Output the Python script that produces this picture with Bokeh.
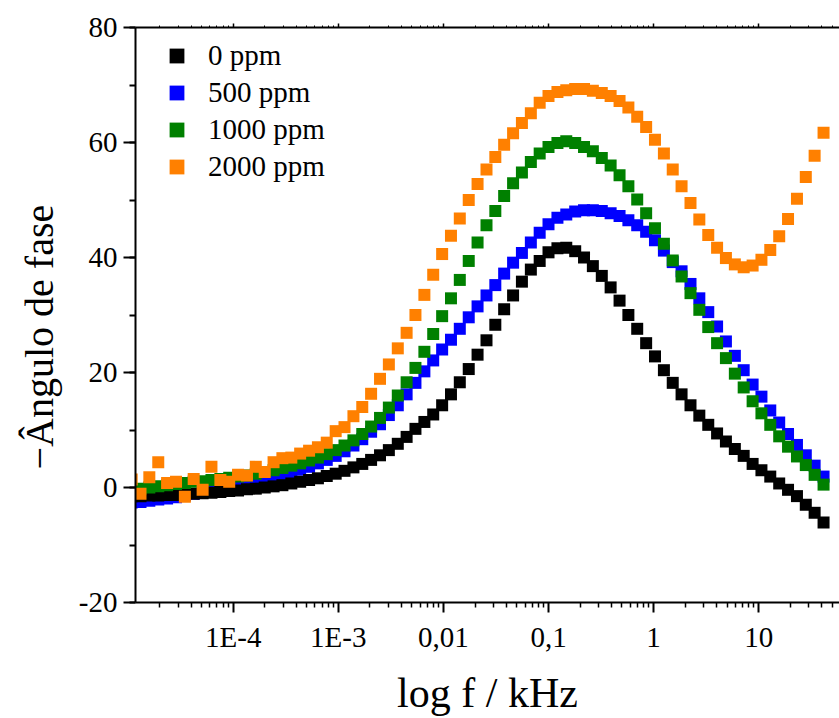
import math
from bokeh.plotting import figure
from bokeh.models import (LogAxis, FixedTicker, SingleIntervalTicker, Legend,
                          LegendItem, Title, Range1d)
from bokeh.embed import file_html
from bokeh.resources import INLINE

# ---------------- data ----------------
log_f = [-4.966, -4.882, -4.798, -4.713, -4.629, -4.544, -4.460, -4.376, -4.291, -4.207,
         -4.122, -4.038, -3.954, -3.869, -3.785, -3.700, -3.616, -3.532, -3.447, -3.363,
         -3.278, -3.194, -3.110, -3.025, -2.941, -2.856, -2.772, -2.688, -2.603, -2.519,
         -2.434, -2.350, -2.266, -2.181, -2.097, -2.012, -1.928, -1.844, -1.759, -1.675,
         -1.590, -1.506, -1.422, -1.337, -1.253, -1.168, -1.084, -1.000, -0.915, -0.831,
         -0.746, -0.662, -0.578, -0.493, -0.409, -0.324, -0.240, -0.156, -0.071, 0.013,
         0.098, 0.182, 0.266, 0.351, 0.435, 0.520, 0.604, 0.688, 0.773, 0.857,
         0.942, 1.026, 1.110, 1.195, 1.279, 1.364, 1.448, 1.532, 1.617]
freq_khz = [10 ** v for v in log_f]

phase_0ppm = [-1.5, -1.5, -1.4, -1.4, -1.3, -1.3, -1.2, -1.1, -1.0, -0.9,
              -0.8, -0.6, -0.5, -0.3, -0.2, 0.0, 0.2, 0.4, 0.7, 1.0,
              1.3, 1.6, 2.0, 2.4, 2.9, 3.5, 4.1, 4.8, 5.6, 6.5,
              7.6, 8.8, 10.2, 11.4, 12.7, 14.3, 16.2, 18.3, 20.6, 23.1,
              25.6, 28.3, 31.0, 33.4, 35.8, 37.9, 39.4, 40.9, 41.6, 41.7,
              41.1, 40.0, 38.5, 36.8, 34.8, 32.5, 30.0, 27.6, 25.1, 22.8,
              20.4, 18.2, 16.2, 14.3, 12.5, 10.9, 9.4, 8.0, 6.7, 5.5,
              4.1, 3.0, 1.9, 0.7, -0.4, -1.5, -3.0, -4.4, -6.1]

phase_500ppm = [-2.6, -2.5, -2.3, -2.1, -1.9, -1.7, -1.4, -1.1, -0.8, -0.5,
                -0.2, 0.1, 0.4, 0.7, 1.0, 1.3, 1.7, 2.1, 2.6, 3.1,
                3.6, 4.2, 4.8, 5.5, 6.3, 7.3, 8.4, 9.7, 11.0, 12.6,
                14.3, 16.2, 18.2, 20.2, 22.1, 24.0, 25.7, 27.6, 29.6, 31.5,
                33.4, 35.2, 37.2, 39.1, 40.8, 42.6, 44.3, 45.8, 46.9, 47.5,
                48.0, 48.2, 48.2, 48.1, 47.7, 47.2, 46.5, 45.6, 44.5, 43.0,
                41.2, 39.2, 37.6, 35.4, 32.9, 30.5, 28.0, 25.4, 22.9, 20.4,
                17.9, 15.8, 13.4, 11.3, 9.3, 7.4, 5.6, 3.8, 1.9]

phase_1000ppm = [-0.5, -0.2, 0.0, 0.2, 0.4, 0.6, 0.8, 1.0, 1.1, 1.3,
                 1.5, 1.7, 1.9, 2.1, 2.4, 2.7, 3.0, 3.4, 3.8, 4.2,
                 4.7, 5.2, 5.8, 6.5, 7.3, 8.2, 9.3, 10.6, 12.1, 13.9,
                 16.0, 18.3, 20.8, 23.6, 26.7, 29.8, 32.9, 36.1, 39.4, 42.6,
                 45.6, 48.1, 50.7, 52.9, 54.8, 56.6, 58.1, 59.2, 59.9, 60.2,
                 59.9, 59.2, 58.5, 57.3, 56.0, 54.3, 52.4, 50.1, 47.7, 45.1,
                 42.4, 39.5, 36.7, 33.8, 30.9, 27.9, 25.1, 22.5, 19.8, 17.4,
                 15.0, 12.9, 10.9, 8.9, 7.1, 5.4, 3.9, 2.2, 0.5]

phase_2000ppm = [1.4, -1.1, 1.8, 4.4, 0.8, 1.0, -1.6, 1.5, -0.4, 3.6,
                 1.3, 1.0, 2.2, 2.1, 3.6, 2.7, 4.4, 5.1, 5.2, 5.9,
                 6.4, 7.0, 7.8, 9.8, 10.5, 12.4, 14.0, 16.3, 18.9, 21.4,
                 24.2, 26.9, 30.0, 33.5, 37.0, 40.6, 43.8, 46.8, 50.0, 52.8,
                 55.3, 57.5, 59.6, 61.6, 63.4, 65.1, 66.9, 68.1, 68.8, 69.1,
                 69.3, 69.3, 69.0, 68.6, 68.1, 67.2, 66.1, 64.5, 62.7, 60.5,
                 58.1, 55.3, 52.4, 49.5, 46.6, 43.9, 41.7, 39.9, 38.8, 38.3,
                 38.6, 39.6, 41.3, 43.7, 46.7, 50.2, 54.0, 57.7, 61.7]

series_labels = ["0 ppm", "500 ppm", "1000 ppm", "2000 ppm"]
series_values = [phase_0ppm, phase_500ppm, phase_1000ppm, phase_2000ppm]
series_colors = ["#000000", "#0000FF", "#008000", "#FF8000"]

x_tick_vals = [1e-4, 1e-3, 1e-2, 1e-1, 1.0, 10.0]
x_tick_labels = ["1E-4", "1E-3", "0,01", "0,1", "1", "10"]
y_tick_vals = [-20, 0, 20, 40, 60, 80]
y_tick_labels = ["-20", "0", "20", "40", "60", "80"]

x_title = "log f / kHz"
y_title = "\u2212\u00c2ngulo de fase"

FONT = "Liberation Serif"

# ---------------- figure ----------------
p = figure(width=839, height=718, x_axis_type="log",
           x_range=Range1d(10 ** -4.9296, 10 ** 1.7687),
           y_range=Range1d(-20, 80),
           output_backend="svg", toolbar_location=None,
           min_border_left=135, min_border_right=0,
           min_border_top=27, min_border_bottom=113)
p.xgrid.visible = False
p.ygrid.visible = False
p.outline_line_color = None
p.background_fill_color = "white"
p.border_fill_color = "white"

minor_x = []
for d in range(-5, 2):
    for m in range(2, 10):
        minor_x.append(m * 10 ** d)

xax = p.xaxis[0]
xax.ticker = FixedTicker(ticks=x_tick_vals, minor_ticks=minor_x)
xax.major_label_overrides = dict(zip(x_tick_vals, x_tick_labels))
xax.major_label_text_font = FONT
xax.major_label_text_font_size = "29px"
xax.major_label_text_color = "black"
xax.major_label_standoff = 8
xax.axis_line_width = 2
xax.major_tick_line_width = 2
xax.minor_tick_line_width = 1.5
xax.major_tick_out = 10
xax.major_tick_in = 0
xax.minor_tick_out = 5
xax.minor_tick_in = 0
xax.axis_label = x_title
xax.axis_label_text_font = FONT
xax.axis_label_text_font_size = "42px"
xax.axis_label_text_font_style = "normal"
xax.axis_label_text_color = "black"
xax.axis_label_standoff = 14

yax = p.yaxis[0]
yax.ticker = SingleIntervalTicker(interval=20, num_minor_ticks=2)
yax.major_label_overrides = dict(zip(y_tick_vals, y_tick_labels))
yax.major_label_text_font = FONT
yax.major_label_text_font_size = "29px"
yax.major_label_text_color = "black"
yax.major_label_standoff = 6
yax.axis_line_width = 2
yax.major_tick_line_width = 2
yax.minor_tick_line_width = 2
yax.major_tick_out = 12
yax.major_tick_in = 0
yax.minor_tick_out = 6
yax.minor_tick_in = 0

top = LogAxis(ticker=FixedTicker(ticks=x_tick_vals, minor_ticks=minor_x),
              major_label_text_alpha=0, major_label_text_font_size="6px",
              major_label_standoff=0,
              axis_line_width=2, major_tick_out=4, major_tick_in=0,
              minor_tick_out=2, minor_tick_in=0,
              major_tick_line_width=1.5, minor_tick_line_width=1)
p.add_layout(top, "above")

# y title as a side title, anchored near the bottom of the frame
ytitle = Title(text=y_title, align="left", offset=133, vertical_align="middle",
               standoff=26, text_font=FONT, text_font_size="40px",
               text_font_style="normal", text_color="black")
p.add_layout(ytitle, "left")

# ---------------- data marks ----------------
renderers = {}
for idx in [1, 0, 2, 3]:
    r = p.scatter(freq_khz, series_values[idx], marker="square", size=12,
                  fill_color=series_colors[idx], line_color=None)
    renderers[idx] = r

legend = Legend(items=[LegendItem(label=series_labels[i], renderers=[renderers[i]])
                       for i in range(4)],
                location="top_left", orientation="vertical",
                padding=0, margin=10, spacing=0,
                glyph_width=63, glyph_height=37, label_height=37,
                label_standoff=0,
                label_text_font=FONT, label_text_font_size="29px",
                label_text_color="black",
                background_fill_alpha=0, border_line_alpha=0)
p.add_layout(legend, "center")

open("out.html", "w").write(file_html(p, INLINE))
